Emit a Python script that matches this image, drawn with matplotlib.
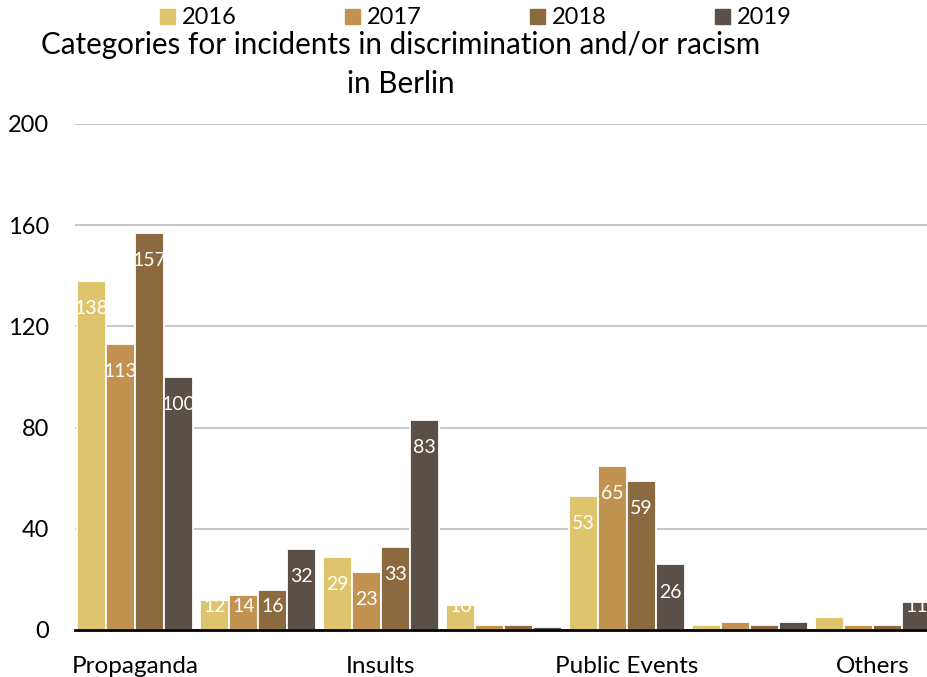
import matplotlib
matplotlib.use("Agg")
import matplotlib.pyplot as plt
import numpy as np

plt.rcParams['font.family'] = ['Lato', 'DejaVu Sans']

# Incident categories (every other group carries a label on the axis)
categories = ["Propaganda", "", "Insults", "", "Public Events", "", "Others"]
years = ["2016", "2017", "2018", "2019"]
values = {
    "2016": [138, 12, 29, 10, 53, 2, 5],
    "2017": [113, 14, 23, 2, 65, 3, 2],
    "2018": [157, 16, 33, 2, 59, 2, 2],
    "2019": [100, 32, 83, 1, 26, 3, 11],
}
colors = ["#DFC46E", "#C29251", "#8C6A3F", "#5A5047"]
yticks = [0, 40, 80, 120, 160, 200]

W, H = 927, 677
fig = plt.figure(figsize=(W / 100, H / 100), dpi=100)
ax = fig.add_axes([75 / W, (H - 630) / H, 1 - 75 / W, (630 - 124) / H])

x = np.arange(len(categories))
bw = 29 / 123
for i, (yr, col) in enumerate(zip(years, colors)):
    off = (i - 1.5) * bw
    vals = values[yr]
    ax.bar(x + off, vals, width=bw, color=col, edgecolor="white",
           linewidth=1.3, zorder=3)
    for xi, v in zip(x, vals):
        ypos = max(v - 11.0, 9.1)
        ax.text(xi + off, ypos, str(v), ha="center", va="center",
                color="white", fontsize=14, zorder=4, clip_on=True)

ax.set_xlim(-0.488, 6.44)
ax.set_ylim(0, 200)
ax.set_yticks(yticks)
ax.set_yticklabels([str(t) for t in yticks], fontsize=17)
ax.set_xticks(x)
ax.set_xticklabels(categories, fontsize=17.5)
ax.tick_params(axis="both", length=0)
ax.tick_params(axis="y", pad=18.5)
ax.tick_params(axis="x", pad=19)
ax.grid(axis="y", color="#888888", alpha=0.45, linewidth=1.5, zorder=3.5)
ax.set_axisbelow(False)
for s in ["top", "right", "left"]:
    ax.spines[s].set_visible(False)
ax.spines["bottom"].set_linewidth(2)
ax.spines["bottom"].set_zorder(5)

# two-line chart title
fig.text(401 / W, 1 - 54 / H, "Categories for incidents in discrimination and/or racism",
         ha="center", va="baseline", fontsize=21.3)
fig.text(401 / W, 1 - 93 / H, "in Berlin", ha="center", va="baseline", fontsize=21.3)

handles = [plt.Rectangle((0, 0), 1, 1, color=c) for c in colors]
fig.legend(handles, years, loc="center", bbox_to_anchor=(476 / W, 1 - 18 / H),
           ncol=4, frameon=False, fontsize=17, handlelength=0.61,
           handleheight=0.61, handletextpad=0.3, columnspacing=4.6,
           borderaxespad=0, borderpad=0)

fig.savefig("out.png", dpi=100)
